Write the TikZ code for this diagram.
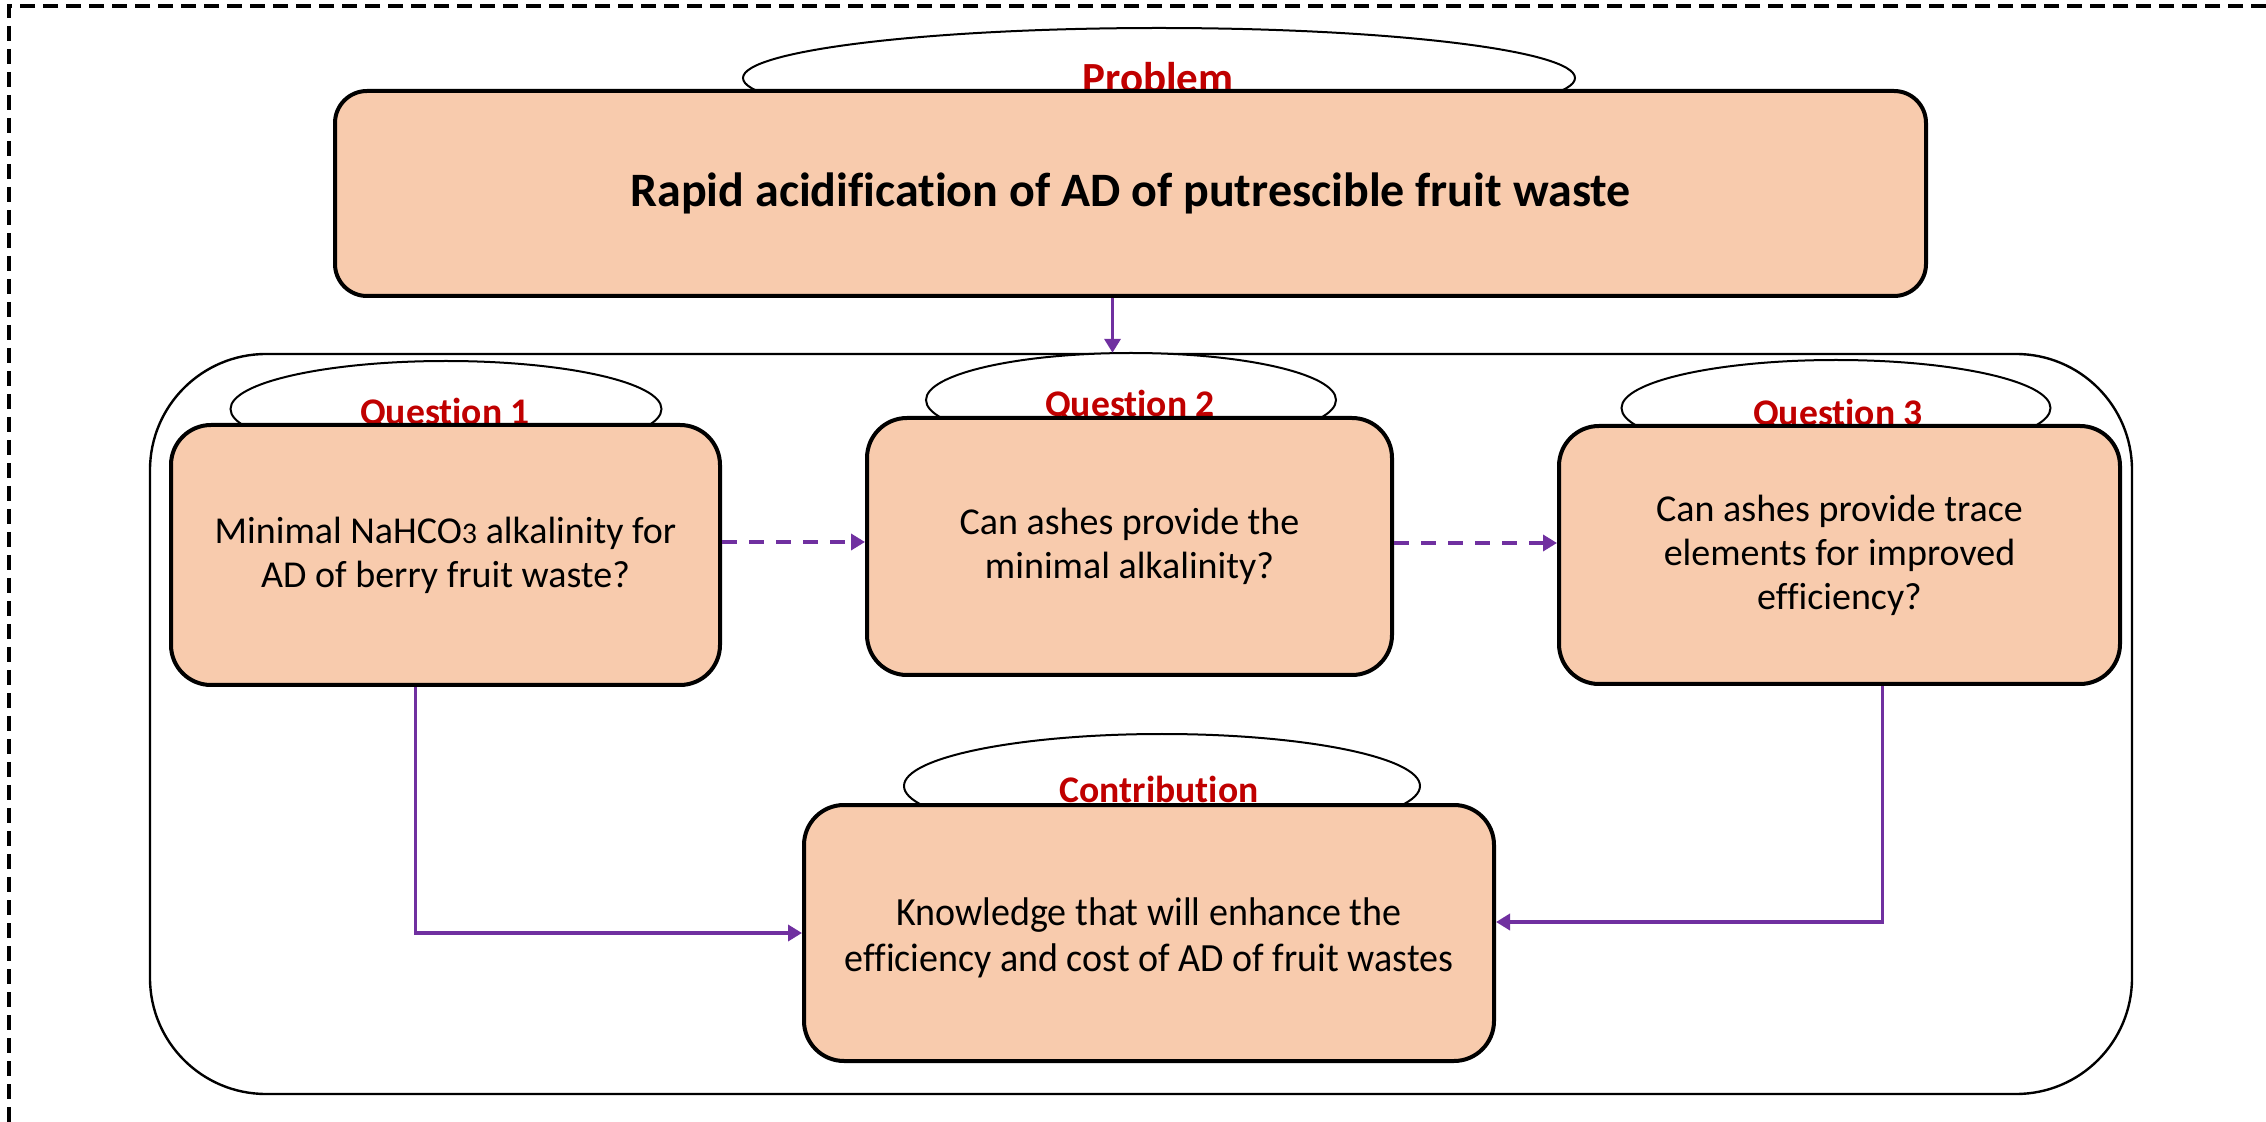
\documentclass[tikz,border=0pt]{standalone}
\usepackage{fontspec}
\setmainfont{Carlito}[Ligatures=NoCommon]
\newfontfamily\condfont{Carlito}[FakeStretch=0.95,Ligatures=NoCommon]
\usetikzlibrary{shapes.geometric,arrows.meta,calc}
\definecolor{boxfill}{HTML}{F8CBAD}
\definecolor{linkpurple}{HTML}{7030A0}
\definecolor{labelred}{HTML}{C00000}
\tikzset{
  stagebox/.style={draw=black, line width=2pt, fill=boxfill, rounded corners=20pt,
    align=center, inner sep=0pt, font=\fontsize{19}{22}\selectfont},
  tagell/.style={ellipse, draw=black, line width=1pt, fill=white, inner sep=0pt},
  taglabel/.style={anchor=base, text=labelred, inner sep=0pt, font=\fontsize{18.8}{20}\selectfont\bfseries},
  conn/.style={draw=linkpurple, line width=1.8pt, -{Triangle[length=7pt,width=8pt]}},
  dconn/.style={conn, line width=2pt, dash pattern=on 7.5pt off 6pt},
  frame/.style={draw=black, line width=2pt, dash pattern=on 7.5pt off 4pt}
}
\begin{document}
\begin{tikzpicture}[x=0.5pt,y=-0.5pt]
\useasboundingbox (0,0) rectangle (2266,1122);
\draw[frame] (2266,6) -- (9,6) -- (9,1122);
% container
\node[draw=black, line width=1.2pt, rounded corners=58pt, minimum width=991pt, minimum height=370pt, inner sep=0pt] (cont) at (1141,724) {};
% ellipses
\node[tagell, minimum width=416pt, minimum height=50pt] (pell) at (1159,78) {};
\node[tagell, minimum width=215.5pt, minimum height=48pt] (q1ell) at (446,409) {};
\node[tagell, minimum width=205pt, minimum height=47pt] (q2ell) at (1131,400) {};
\node[tagell, minimum width=214.5pt, minimum height=48pt] (q3ell) at (1836,408) {};
\node[tagell, minimum width=258pt, minimum height=52pt] (cell) at (1162,786) {};
% labels
\node[taglabel, font=\fontsize{21.5}{23}\selectfont\bfseries] (plab) at (1158,93) {Problem};
\node[taglabel] (q1lab) at (445,425) {Question 1};
\node[taglabel] (q2lab) at (1130,417) {Question 2};
\node[taglabel] (q3lab) at (1838,426) {Question 3};
\node[taglabel] (clab) at (1159,803) {Contribution};
% boxes
\node[stagebox, rounded corners=16pt, minimum width=795.5pt, minimum height=102.5pt, font=\fontsize{24}{28}\selectfont\bfseries] (prob) at (1130.5,193.5) {Rapid acidification of AD of putrescible fruit waste};
\node[stagebox, minimum width=274.5pt, minimum height=130pt] (q1) at (445.5,555) {Minimal NaHCO{\fontsize{15}{15}\selectfont 3} alkalinity for\\AD of berry fruit waste?};
\node[stagebox, minimum width=262.5pt, minimum height=128.5pt] (q2) at (1129.5,546.5) {Can ashes provide the\\minimal alkalinity?};
\node[stagebox, minimum width=280.5pt, minimum height=129pt] (q3) at (1839.5,555) {Can ashes provide trace\\elements for improved\\efficiency?};
\node[stagebox, minimum width=345pt, minimum height=128pt] (contrib) at (1149,933) {};
\node[font=\fontsize{20}{23}\condfont, align=center, inner sep=0pt] (ctext) at ($(contrib.center)+(0,5)$) {Knowledge that will enhance the\\efficiency and cost of AD of fruit wastes};
% connectors
\coordinate (pa) at ($(prob.south)+(-18,0)$);
\draw[conn] (pa) -- (pa |- cont.north);
\draw[dconn] (q1.east |- 0,542) -- (q2.west |- 0,542);
\draw[dconn] (q2.east |- 0,543) -- (q3.west |- 0,543);
\coordinate (qa) at ($(q1.south)+(-30,0)$);
\draw[conn] (qa) |- (contrib.west);
\coordinate (qb) at ($(q3.south)+(43,0)$);
\draw[conn] (qb) |- ($(contrib.east)+(0,-11)$);
\end{tikzpicture}
\end{document}
